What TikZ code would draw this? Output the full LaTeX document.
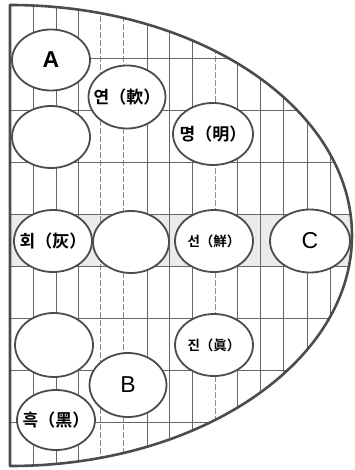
\documentclass[tikz,border=0pt]{standalone}
\usepackage{fontspec}
\usetikzlibrary{shapes.geometric}
\newfontfamily\krfont{Noto Sans CJK KR}[BoldFont={Noto Sans CJK KR Bold}]
\setsansfont{Liberation Sans}
\newcommand{\zw}[1]{\makebox[0pt]{#1}}
\begin{document}
\begin{tikzpicture}[x=1pt,y=1pt,yscale=-1,
  oval/.style={ellipse, draw=black!70, line width=1.8pt, fill=white, inner sep=0pt},
  kr/.style={font=\krfont\bfseries\fontsize{17}{17}\selectfont},
  krs/.style={font=\krfont\bfseries\fontsize{13.5}{13.5}\selectfont},
  lat/.style={font=\sffamily\fontsize{23}{23}\selectfont},
  gridline/.style={draw=black!60, line width=0.7pt},
  gridlight/.style={draw=black!45, line width=0.6pt, dash pattern=on 6pt off 2pt}]
\useasboundingbox (0,0) rectangle (355,470);
\begin{scope}
  \clip (10,5) -- (10,466) arc[start angle=90, end angle=-90, x radius=342, y radius=230.5] -- cycle;
  \fill[black!8] (0,214) rectangle (360,266);
  \foreach \x in {33,56,78,147,169,192,237,260,283,307,330} \draw[gridline] (\x,0) -- (\x,470);
  \foreach \x in {100,123,215} \draw[gridlight] (\x,0) -- (\x,470);
  \foreach \y in {58,110,162,214,266,318,370,422} \draw[gridline] (0,\y) -- (360,\y);
\end{scope}
\draw[black!70, line width=2.6pt, line join=round] (10,5) -- (10,466) arc[start angle=90, end angle=-90, x radius=342, y radius=230.5] -- cycle;
\node[oval, minimum width=78pt, minimum height=61pt, lat] (A) at (51,60) {\bfseries A};
\node[oval, minimum width=77pt, minimum height=63pt, kr] (yeon) at (127,97) {\zw{연（軟）}};
\node[oval, minimum width=78pt, minimum height=62pt] (e2) at (51,137) {};
\node[oval, minimum width=80pt, minimum height=62pt, kr] (myeong) at (213,134) {\zw{명（明）}};
\node[oval, minimum width=78pt, minimum height=62pt, kr] (hoe) at (53,241) {\zw{회（灰）}};
\node[oval, minimum width=76pt, minimum height=62pt] (e5) at (131,242) {};
\node[oval, minimum width=78pt, minimum height=62pt, krs] (seon) at (214,241) {\zw{선（鮮）}};
\node[oval, minimum width=80pt, minimum height=63pt, lat] (C) at (310,241) {C};
\node[oval, minimum width=78pt, minimum height=64pt] (e8) at (54,345) {};
\node[oval, minimum width=78pt, minimum height=62pt, krs] (jin) at (214,345) {\zw{진（眞）}};
\node[oval, minimum width=77pt, minimum height=64pt, lat] (B) at (128,385) {B};
\node[oval, minimum width=78pt, minimum height=60pt, kr] (heuk) at (56,420) {\zw{흑（黑）}};
\end{tikzpicture}
\end{document}
